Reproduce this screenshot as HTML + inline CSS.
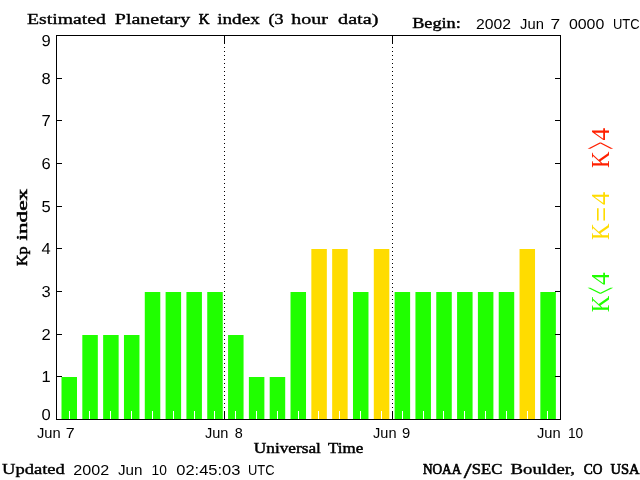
<!DOCTYPE html>
<html lang="en"><head><meta charset="utf-8"><title>Estimated Planetary K index</title>
<style>html,body{margin:0;padding:0;background:#fff}svg{display:block}.s{font-family:"Liberation Serif",serif;font-weight:normal;font-size:15px;fill:#000;stroke:#000;stroke-width:0.5px}.n{font-family:"Liberation Sans",sans-serif;font-size:15px;fill:#000}.l{font-family:"Liberation Serif",serif;font-size:24px}</style></head><body>
<svg width="640" height="480" viewBox="0 0 640 480">
<rect width="640" height="480" fill="#fff"/>
<rect x="61.5" y="377" width="15.5" height="42" fill="#20ff00"/>
<rect x="82.32" y="335" width="15.5" height="84" fill="#20ff00"/>
<rect x="103.14" y="335" width="15.5" height="84" fill="#20ff00"/>
<rect x="123.96" y="335" width="15.5" height="84" fill="#20ff00"/>
<rect x="144.78" y="292" width="15.5" height="127" fill="#20ff00"/>
<rect x="165.6" y="292" width="15.5" height="127" fill="#20ff00"/>
<rect x="186.42" y="292" width="15.5" height="127" fill="#20ff00"/>
<rect x="207.24" y="292" width="15.5" height="127" fill="#20ff00"/>
<rect x="228.06" y="335" width="15.5" height="84" fill="#20ff00"/>
<rect x="248.88" y="377" width="15.5" height="42" fill="#20ff00"/>
<rect x="269.7" y="377" width="15.5" height="42" fill="#20ff00"/>
<rect x="290.52" y="292" width="15.5" height="127" fill="#20ff00"/>
<rect x="311.34" y="249" width="15.5" height="170" fill="#ffdc00"/>
<rect x="332.16" y="249" width="15.5" height="170" fill="#ffdc00"/>
<rect x="352.98" y="292" width="15.5" height="127" fill="#20ff00"/>
<rect x="373.8" y="249" width="15.5" height="170" fill="#ffdc00"/>
<rect x="394.62" y="292" width="15.5" height="127" fill="#20ff00"/>
<rect x="415.44" y="292" width="15.5" height="127" fill="#20ff00"/>
<rect x="436.26" y="292" width="15.5" height="127" fill="#20ff00"/>
<rect x="457.08" y="292" width="15.5" height="127" fill="#20ff00"/>
<rect x="477.9" y="292" width="15.5" height="127" fill="#20ff00"/>
<rect x="498.72" y="292" width="15.5" height="127" fill="#20ff00"/>
<rect x="519.54" y="249" width="15.5" height="170" fill="#ffdc00"/>
<rect x="540.36" y="292" width="15.5" height="127" fill="#20ff00"/>
<g shape-rendering="crispEdges">
<rect x="69" y="411" width="1" height="8" fill="#fff"/>
<rect x="89" y="411" width="1" height="8" fill="#fff"/>
<rect x="110" y="411" width="1" height="8" fill="#fff"/>
<rect x="131" y="411" width="1" height="8" fill="#fff"/>
<rect x="152" y="411" width="1" height="8" fill="#fff"/>
<rect x="173" y="411" width="1" height="8" fill="#fff"/>
<rect x="194" y="411" width="1" height="8" fill="#fff"/>
<rect x="214" y="411" width="1" height="8" fill="#fff"/>
<rect x="235" y="411" width="1" height="8" fill="#fff"/>
<rect x="256" y="411" width="1" height="8" fill="#fff"/>
<rect x="277" y="411" width="1" height="8" fill="#fff"/>
<rect x="298" y="411" width="1" height="8" fill="#fff"/>
<rect x="318" y="411" width="1" height="8" fill="#fff"/>
<rect x="339" y="411" width="1" height="8" fill="#fff"/>
<rect x="360" y="411" width="1" height="8" fill="#fff"/>
<rect x="381" y="411" width="1" height="8" fill="#fff"/>
<rect x="402" y="411" width="1" height="8" fill="#fff"/>
<rect x="423" y="411" width="1" height="8" fill="#fff"/>
<rect x="443" y="411" width="1" height="8" fill="#fff"/>
<rect x="464" y="411" width="1" height="8" fill="#fff"/>
<rect x="485" y="411" width="1" height="8" fill="#fff"/>
<rect x="506" y="411" width="1" height="8" fill="#fff"/>
<rect x="527" y="411" width="1" height="8" fill="#fff"/>
<rect x="547" y="411" width="1" height="8" fill="#fff"/>
<rect x="56" y="35" width="505" height="1" fill="#000"/>
<rect x="56" y="419" width="505" height="1" fill="#000"/>
<rect x="56" y="35" width="1" height="385" fill="#000"/>
<rect x="560" y="35" width="1" height="385" fill="#000"/>
<rect x="56" y="376" width="6" height="1" fill="#000"/>
<rect x="555" y="376" width="6" height="1" fill="#000"/>
<rect x="56" y="334" width="6" height="1" fill="#000"/>
<rect x="555" y="334" width="6" height="1" fill="#000"/>
<rect x="56" y="291" width="6" height="1" fill="#000"/>
<rect x="555" y="291" width="6" height="1" fill="#000"/>
<rect x="56" y="248" width="6" height="1" fill="#000"/>
<rect x="555" y="248" width="6" height="1" fill="#000"/>
<rect x="56" y="206" width="6" height="1" fill="#000"/>
<rect x="555" y="206" width="6" height="1" fill="#000"/>
<rect x="56" y="163" width="6" height="1" fill="#000"/>
<rect x="555" y="163" width="6" height="1" fill="#000"/>
<rect x="56" y="120" width="6" height="1" fill="#000"/>
<rect x="555" y="120" width="6" height="1" fill="#000"/>
<rect x="56" y="78" width="6" height="1" fill="#000"/>
<rect x="555" y="78" width="6" height="1" fill="#000"/>
<rect x="224" y="35" width="1" height="9" fill="#000"/>
<rect x="224" y="411" width="1" height="9" fill="#000"/>
<rect x="224" y="47" width="1" height="1" fill="#000"/>
<rect x="224" y="51" width="1" height="1" fill="#000"/>
<rect x="224" y="55" width="1" height="1" fill="#000"/>
<rect x="224" y="59" width="1" height="1" fill="#000"/>
<rect x="224" y="63" width="1" height="1" fill="#000"/>
<rect x="224" y="67" width="1" height="1" fill="#000"/>
<rect x="224" y="71" width="1" height="1" fill="#000"/>
<rect x="224" y="75" width="1" height="1" fill="#000"/>
<rect x="224" y="79" width="1" height="1" fill="#000"/>
<rect x="224" y="83" width="1" height="1" fill="#000"/>
<rect x="224" y="87" width="1" height="1" fill="#000"/>
<rect x="224" y="91" width="1" height="1" fill="#000"/>
<rect x="224" y="95" width="1" height="1" fill="#000"/>
<rect x="224" y="99" width="1" height="1" fill="#000"/>
<rect x="224" y="103" width="1" height="1" fill="#000"/>
<rect x="224" y="107" width="1" height="1" fill="#000"/>
<rect x="224" y="111" width="1" height="1" fill="#000"/>
<rect x="224" y="115" width="1" height="1" fill="#000"/>
<rect x="224" y="119" width="1" height="1" fill="#000"/>
<rect x="224" y="123" width="1" height="1" fill="#000"/>
<rect x="224" y="127" width="1" height="1" fill="#000"/>
<rect x="224" y="131" width="1" height="1" fill="#000"/>
<rect x="224" y="135" width="1" height="1" fill="#000"/>
<rect x="224" y="139" width="1" height="1" fill="#000"/>
<rect x="224" y="143" width="1" height="1" fill="#000"/>
<rect x="224" y="147" width="1" height="1" fill="#000"/>
<rect x="224" y="151" width="1" height="1" fill="#000"/>
<rect x="224" y="155" width="1" height="1" fill="#000"/>
<rect x="224" y="159" width="1" height="1" fill="#000"/>
<rect x="224" y="163" width="1" height="1" fill="#000"/>
<rect x="224" y="167" width="1" height="1" fill="#000"/>
<rect x="224" y="171" width="1" height="1" fill="#000"/>
<rect x="224" y="175" width="1" height="1" fill="#000"/>
<rect x="224" y="179" width="1" height="1" fill="#000"/>
<rect x="224" y="183" width="1" height="1" fill="#000"/>
<rect x="224" y="187" width="1" height="1" fill="#000"/>
<rect x="224" y="191" width="1" height="1" fill="#000"/>
<rect x="224" y="195" width="1" height="1" fill="#000"/>
<rect x="224" y="199" width="1" height="1" fill="#000"/>
<rect x="224" y="203" width="1" height="1" fill="#000"/>
<rect x="224" y="207" width="1" height="1" fill="#000"/>
<rect x="224" y="211" width="1" height="1" fill="#000"/>
<rect x="224" y="215" width="1" height="1" fill="#000"/>
<rect x="224" y="219" width="1" height="1" fill="#000"/>
<rect x="224" y="223" width="1" height="1" fill="#000"/>
<rect x="224" y="227" width="1" height="1" fill="#000"/>
<rect x="224" y="231" width="1" height="1" fill="#000"/>
<rect x="224" y="235" width="1" height="1" fill="#000"/>
<rect x="224" y="239" width="1" height="1" fill="#000"/>
<rect x="224" y="243" width="1" height="1" fill="#000"/>
<rect x="224" y="247" width="1" height="1" fill="#000"/>
<rect x="224" y="251" width="1" height="1" fill="#000"/>
<rect x="224" y="255" width="1" height="1" fill="#000"/>
<rect x="224" y="259" width="1" height="1" fill="#000"/>
<rect x="224" y="263" width="1" height="1" fill="#000"/>
<rect x="224" y="267" width="1" height="1" fill="#000"/>
<rect x="224" y="271" width="1" height="1" fill="#000"/>
<rect x="224" y="275" width="1" height="1" fill="#000"/>
<rect x="224" y="279" width="1" height="1" fill="#000"/>
<rect x="224" y="283" width="1" height="1" fill="#000"/>
<rect x="224" y="287" width="1" height="1" fill="#000"/>
<rect x="224" y="291" width="1" height="1" fill="#000"/>
<rect x="224" y="295" width="1" height="1" fill="#000"/>
<rect x="224" y="299" width="1" height="1" fill="#000"/>
<rect x="224" y="303" width="1" height="1" fill="#000"/>
<rect x="224" y="307" width="1" height="1" fill="#000"/>
<rect x="224" y="311" width="1" height="1" fill="#000"/>
<rect x="224" y="315" width="1" height="1" fill="#000"/>
<rect x="224" y="319" width="1" height="1" fill="#000"/>
<rect x="224" y="323" width="1" height="1" fill="#000"/>
<rect x="224" y="327" width="1" height="1" fill="#000"/>
<rect x="224" y="331" width="1" height="1" fill="#000"/>
<rect x="224" y="335" width="1" height="1" fill="#000"/>
<rect x="224" y="339" width="1" height="1" fill="#000"/>
<rect x="224" y="343" width="1" height="1" fill="#000"/>
<rect x="224" y="347" width="1" height="1" fill="#000"/>
<rect x="224" y="351" width="1" height="1" fill="#000"/>
<rect x="224" y="355" width="1" height="1" fill="#000"/>
<rect x="224" y="359" width="1" height="1" fill="#000"/>
<rect x="224" y="363" width="1" height="1" fill="#000"/>
<rect x="224" y="367" width="1" height="1" fill="#000"/>
<rect x="224" y="371" width="1" height="1" fill="#000"/>
<rect x="224" y="375" width="1" height="1" fill="#000"/>
<rect x="224" y="379" width="1" height="1" fill="#000"/>
<rect x="224" y="383" width="1" height="1" fill="#000"/>
<rect x="224" y="387" width="1" height="1" fill="#000"/>
<rect x="224" y="391" width="1" height="1" fill="#000"/>
<rect x="224" y="395" width="1" height="1" fill="#000"/>
<rect x="224" y="399" width="1" height="1" fill="#000"/>
<rect x="224" y="403" width="1" height="1" fill="#000"/>
<rect x="224" y="407" width="1" height="1" fill="#000"/>
<rect x="392" y="35" width="1" height="9" fill="#000"/>
<rect x="392" y="411" width="1" height="9" fill="#000"/>
<rect x="392" y="47" width="1" height="1" fill="#000"/>
<rect x="392" y="51" width="1" height="1" fill="#000"/>
<rect x="392" y="55" width="1" height="1" fill="#000"/>
<rect x="392" y="59" width="1" height="1" fill="#000"/>
<rect x="392" y="63" width="1" height="1" fill="#000"/>
<rect x="392" y="67" width="1" height="1" fill="#000"/>
<rect x="392" y="71" width="1" height="1" fill="#000"/>
<rect x="392" y="75" width="1" height="1" fill="#000"/>
<rect x="392" y="79" width="1" height="1" fill="#000"/>
<rect x="392" y="83" width="1" height="1" fill="#000"/>
<rect x="392" y="87" width="1" height="1" fill="#000"/>
<rect x="392" y="91" width="1" height="1" fill="#000"/>
<rect x="392" y="95" width="1" height="1" fill="#000"/>
<rect x="392" y="99" width="1" height="1" fill="#000"/>
<rect x="392" y="103" width="1" height="1" fill="#000"/>
<rect x="392" y="107" width="1" height="1" fill="#000"/>
<rect x="392" y="111" width="1" height="1" fill="#000"/>
<rect x="392" y="115" width="1" height="1" fill="#000"/>
<rect x="392" y="119" width="1" height="1" fill="#000"/>
<rect x="392" y="123" width="1" height="1" fill="#000"/>
<rect x="392" y="127" width="1" height="1" fill="#000"/>
<rect x="392" y="131" width="1" height="1" fill="#000"/>
<rect x="392" y="135" width="1" height="1" fill="#000"/>
<rect x="392" y="139" width="1" height="1" fill="#000"/>
<rect x="392" y="143" width="1" height="1" fill="#000"/>
<rect x="392" y="147" width="1" height="1" fill="#000"/>
<rect x="392" y="151" width="1" height="1" fill="#000"/>
<rect x="392" y="155" width="1" height="1" fill="#000"/>
<rect x="392" y="159" width="1" height="1" fill="#000"/>
<rect x="392" y="163" width="1" height="1" fill="#000"/>
<rect x="392" y="167" width="1" height="1" fill="#000"/>
<rect x="392" y="171" width="1" height="1" fill="#000"/>
<rect x="392" y="175" width="1" height="1" fill="#000"/>
<rect x="392" y="179" width="1" height="1" fill="#000"/>
<rect x="392" y="183" width="1" height="1" fill="#000"/>
<rect x="392" y="187" width="1" height="1" fill="#000"/>
<rect x="392" y="191" width="1" height="1" fill="#000"/>
<rect x="392" y="195" width="1" height="1" fill="#000"/>
<rect x="392" y="199" width="1" height="1" fill="#000"/>
<rect x="392" y="203" width="1" height="1" fill="#000"/>
<rect x="392" y="207" width="1" height="1" fill="#000"/>
<rect x="392" y="211" width="1" height="1" fill="#000"/>
<rect x="392" y="215" width="1" height="1" fill="#000"/>
<rect x="392" y="219" width="1" height="1" fill="#000"/>
<rect x="392" y="223" width="1" height="1" fill="#000"/>
<rect x="392" y="227" width="1" height="1" fill="#000"/>
<rect x="392" y="231" width="1" height="1" fill="#000"/>
<rect x="392" y="235" width="1" height="1" fill="#000"/>
<rect x="392" y="239" width="1" height="1" fill="#000"/>
<rect x="392" y="243" width="1" height="1" fill="#000"/>
<rect x="392" y="247" width="1" height="1" fill="#000"/>
<rect x="392" y="251" width="1" height="1" fill="#000"/>
<rect x="392" y="255" width="1" height="1" fill="#000"/>
<rect x="392" y="259" width="1" height="1" fill="#000"/>
<rect x="392" y="263" width="1" height="1" fill="#000"/>
<rect x="392" y="267" width="1" height="1" fill="#000"/>
<rect x="392" y="271" width="1" height="1" fill="#000"/>
<rect x="392" y="275" width="1" height="1" fill="#000"/>
<rect x="392" y="279" width="1" height="1" fill="#000"/>
<rect x="392" y="283" width="1" height="1" fill="#000"/>
<rect x="392" y="287" width="1" height="1" fill="#000"/>
<rect x="392" y="291" width="1" height="1" fill="#000"/>
<rect x="392" y="295" width="1" height="1" fill="#000"/>
<rect x="392" y="299" width="1" height="1" fill="#000"/>
<rect x="392" y="303" width="1" height="1" fill="#000"/>
<rect x="392" y="307" width="1" height="1" fill="#000"/>
<rect x="392" y="311" width="1" height="1" fill="#000"/>
<rect x="392" y="315" width="1" height="1" fill="#000"/>
<rect x="392" y="319" width="1" height="1" fill="#000"/>
<rect x="392" y="323" width="1" height="1" fill="#000"/>
<rect x="392" y="327" width="1" height="1" fill="#000"/>
<rect x="392" y="331" width="1" height="1" fill="#000"/>
<rect x="392" y="335" width="1" height="1" fill="#000"/>
<rect x="392" y="339" width="1" height="1" fill="#000"/>
<rect x="392" y="343" width="1" height="1" fill="#000"/>
<rect x="392" y="347" width="1" height="1" fill="#000"/>
<rect x="392" y="351" width="1" height="1" fill="#000"/>
<rect x="392" y="355" width="1" height="1" fill="#000"/>
<rect x="392" y="359" width="1" height="1" fill="#000"/>
<rect x="392" y="363" width="1" height="1" fill="#000"/>
<rect x="392" y="367" width="1" height="1" fill="#000"/>
<rect x="392" y="371" width="1" height="1" fill="#000"/>
<rect x="392" y="375" width="1" height="1" fill="#000"/>
<rect x="392" y="379" width="1" height="1" fill="#000"/>
<rect x="392" y="383" width="1" height="1" fill="#000"/>
<rect x="392" y="387" width="1" height="1" fill="#000"/>
<rect x="392" y="391" width="1" height="1" fill="#000"/>
<rect x="392" y="395" width="1" height="1" fill="#000"/>
<rect x="392" y="399" width="1" height="1" fill="#000"/>
<rect x="392" y="403" width="1" height="1" fill="#000"/>
<rect x="392" y="407" width="1" height="1" fill="#000"/>
</g>
<text><tspan class="s" style="stroke-width:0.35px" x="27.0" y="23.7" textLength="79.0" lengthAdjust="spacingAndGlyphs">Estimated</tspan> <tspan class="s" style="stroke-width:0.35px" x="114.8" y="23.7" textLength="75.44" lengthAdjust="spacingAndGlyphs">Planetary</tspan> <tspan class="s" style="stroke-width:0.62px" x="198.8" y="23.7" textLength="10.75" lengthAdjust="spacingAndGlyphs">K</tspan> <tspan class="s" style="stroke-width:0.36px" x="217.2" y="23.7" textLength="42.62" lengthAdjust="spacingAndGlyphs">index</tspan> <tspan class="s" style="stroke-width:0.43px" x="268.6" y="23.7" textLength="15.0" lengthAdjust="spacingAndGlyphs">(3</tspan> <tspan class="s" style="stroke-width:0.35px" x="291.3" y="23.7" textLength="36.54" lengthAdjust="spacingAndGlyphs">hour</tspan> <tspan class="s" style="stroke-width:0.35px" x="338.1" y="23.7" textLength="40.28" lengthAdjust="spacingAndGlyphs">data)</tspan></text>
<text><tspan class="s" style="stroke-width:0.41px" x="412.2" y="27.7" textLength="48.62" lengthAdjust="spacingAndGlyphs">Begin:</tspan> <tspan class="n" x="476.0" y="28.7" textLength="34.99" lengthAdjust="spacingAndGlyphs">2002</tspan> <tspan class="n" x="520.1" y="28.7" textLength="23.77" lengthAdjust="spacingAndGlyphs">Jun</tspan> <tspan class="n" x="550.54" y="28.7" textLength="9.65" lengthAdjust="spacingAndGlyphs">7</tspan> <tspan class="n" x="568.9" y="28.7" textLength="35.4" lengthAdjust="spacingAndGlyphs">0000</tspan> <tspan class="n" x="612.93" y="28.7" textLength="26.68" lengthAdjust="spacingAndGlyphs">UTC</tspan></text>
<text><tspan class="s" style="stroke-width:0.4px" x="2.0" y="474.3" textLength="62.79" lengthAdjust="spacingAndGlyphs">Updated</tspan> <tspan class="n" x="73.3" y="475" textLength="35.9" lengthAdjust="spacingAndGlyphs">2002</tspan> <tspan class="n" x="118.0" y="475" textLength="24.5" lengthAdjust="spacingAndGlyphs">Jun</tspan> <tspan class="n" x="151.58" y="475" textLength="15.35" lengthAdjust="spacingAndGlyphs">10</tspan> <tspan class="n" x="176.3" y="475" textLength="64.13" lengthAdjust="spacingAndGlyphs">02:45:03</tspan> <tspan class="n" x="247.94" y="475" textLength="26.58" lengthAdjust="spacingAndGlyphs">UTC</tspan></text>
<text><tspan class="s" style="stroke-width:0.71px" x="422.9" y="473.6" textLength="38.42" lengthAdjust="spacingAndGlyphs">NOAA</tspan><tspan class="s" style="font-size:22px" x="463.7" y="477.6" textLength="7.8" lengthAdjust="spacingAndGlyphs">/</tspan><tspan class="s" style="stroke-width:0.51px" x="471.89" y="473.6" textLength="30.48" lengthAdjust="spacingAndGlyphs">SEC</tspan> <tspan class="s" style="stroke-width:0.38px" x="510.6" y="473.6" textLength="64.41" lengthAdjust="spacingAndGlyphs">Boulder,</tspan> <tspan class="s" style="stroke-width:0.71px" x="583.8" y="473.6" textLength="18.56" lengthAdjust="spacingAndGlyphs">CO</tspan> <tspan class="s" style="stroke-width:0.64px" x="610.4" y="473.6" textLength="29.12" lengthAdjust="spacingAndGlyphs">USA</tspan></text>
<text><tspan class="s" style="stroke-width:0.47px" x="253.8" y="453" textLength="67.08" lengthAdjust="spacingAndGlyphs">Universal</tspan> <tspan class="s" style="stroke-width:0.49px" x="328.0" y="453" textLength="35.16" lengthAdjust="spacingAndGlyphs">Time</tspan></text>
<text><tspan class="n" x="36.9" y="438.3" textLength="23.66" lengthAdjust="spacingAndGlyphs">Jun</tspan> <tspan class="n" x="65.83" y="438.3" textLength="8.94" lengthAdjust="spacingAndGlyphs">7</tspan></text>
<text><tspan class="n" x="205.0" y="438.3" textLength="23.45" lengthAdjust="spacingAndGlyphs">Jun</tspan> <tspan class="n" x="234.8" y="438.3" textLength="8.03" lengthAdjust="spacingAndGlyphs">8</tspan></text>
<text><tspan class="n" x="373.1" y="438.3" textLength="23.45" lengthAdjust="spacingAndGlyphs">Jun</tspan> <tspan class="n" x="402.11" y="438.3" textLength="8.22" lengthAdjust="spacingAndGlyphs">9</tspan></text>
<text><tspan class="n" x="537.0" y="438.3" textLength="23.66" lengthAdjust="spacingAndGlyphs">Jun</tspan> <tspan class="n" x="567.89" y="438.3" textLength="15.24" lengthAdjust="spacingAndGlyphs">10</tspan></text>
<text class="n" transform="translate(41.4,420) scale(1,1.06) rotate(0.05)" textLength="9.2" lengthAdjust="spacingAndGlyphs">0</text>
<text class="n" transform="translate(41.4,382) scale(1,1.06) rotate(0.05)" textLength="9.2" lengthAdjust="spacingAndGlyphs">1</text>
<text class="n" transform="translate(41.4,340) scale(1,1.06) rotate(0.05)" textLength="9.2" lengthAdjust="spacingAndGlyphs">2</text>
<text class="n" transform="translate(41.4,297) scale(1,1.06) rotate(0.05)" textLength="9.2" lengthAdjust="spacingAndGlyphs">3</text>
<text class="n" transform="translate(41.4,254) scale(1,1.06) rotate(0.05)" textLength="9.2" lengthAdjust="spacingAndGlyphs">4</text>
<text class="n" transform="translate(41.4,212) scale(1,1.06) rotate(0.05)" textLength="9.2" lengthAdjust="spacingAndGlyphs">5</text>
<text class="n" transform="translate(41.4,169) scale(1,1.06) rotate(0.05)" textLength="9.2" lengthAdjust="spacingAndGlyphs">6</text>
<text class="n" transform="translate(41.4,126) scale(1,1.06) rotate(0.05)" textLength="9.2" lengthAdjust="spacingAndGlyphs">7</text>
<text class="n" transform="translate(41.4,84) scale(1,1.06) rotate(0.05)" textLength="9.2" lengthAdjust="spacingAndGlyphs">8</text>
<text class="n" transform="translate(41.4,46) scale(1,1.06) rotate(0.05)" textLength="9.2" lengthAdjust="spacingAndGlyphs">9</text>
<text transform="translate(26.9,266) rotate(-90)"><tspan class="s" x="0" y="0" textLength="19.6" lengthAdjust="spacingAndGlyphs">Kp</tspan> <tspan class="s" x="25.5" y="0" textLength="51.7" lengthAdjust="spacingAndGlyphs">index</tspan></text>
<text class="l" transform="translate(608.5,167) rotate(-90)" fill="#ff2000"><tspan style="font-size:25.61px" x="-0.96" y="0.0" textLength="16.57" lengthAdjust="spacingAndGlyphs">K</tspan><tspan style="font-size:53.02px" x="17.54" y="9.42" textLength="7.63" lengthAdjust="spacingAndGlyphs">&gt;</tspan><tspan style="font-size:25.61px" x="26.4" y="0.0" textLength="12.6" lengthAdjust="spacingAndGlyphs">4</tspan></text>
<text class="l" transform="translate(608.5,239) rotate(-90)" fill="#ffdc00"><tspan style="font-size:25.61px" x="-0.96" y="0.0" textLength="16.57" lengthAdjust="spacingAndGlyphs">K</tspan><tspan style="font-size:32.4px" x="17.31" y="3.75" textLength="14.78" lengthAdjust="spacingAndGlyphs">=</tspan><tspan style="font-size:25.61px" x="34.0" y="0.0" textLength="13.11" lengthAdjust="spacingAndGlyphs">4</tspan></text>
<text class="l" transform="translate(608.5,311.3) rotate(-90)" fill="#20ff00"><tspan style="font-size:25.61px" x="-0.96" y="0.0" textLength="16.57" lengthAdjust="spacingAndGlyphs">K</tspan><tspan style="font-size:53.02px" x="17.08" y="9.42" textLength="7.0" lengthAdjust="spacingAndGlyphs">&lt;</tspan><tspan style="font-size:25.61px" x="26.4" y="0.0" textLength="12.6" lengthAdjust="spacingAndGlyphs">4</tspan></text>
</svg></body></html>
